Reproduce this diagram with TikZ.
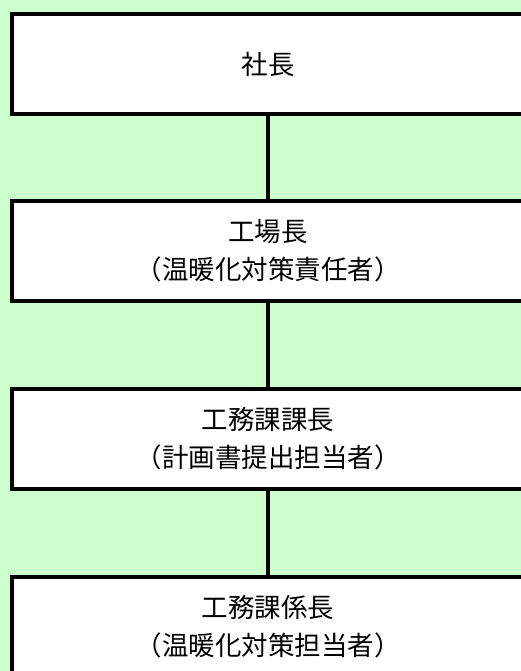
\documentclass[tikz,border=0pt]{standalone}
\usepackage{fontspec}
\newfontfamily\jpfont{Noto Sans CJK JP}
\usetikzlibrary{positioning}
\definecolor{bggreen}{HTML}{CCFFCC}
\tikzset{
  post/.style={rectangle, draw=black, fill=white, line width=3.5pt,
    minimum width=512pt, minimum height=100pt, align=center,
    font=\jpfont\fontsize{26.5}{38}\selectfont},
  link/.style={line width=3.5pt}
}
\begin{document}
\begin{tikzpicture}[x=1pt,y=-1pt]
    % Background
    \useasboundingbox (0,0) rectangle (521,671);
    \clip (0,0) rectangle (521,671);
    \fill[bggreen] (0,0) rectangle (521,671);

    % Posts
    \node[post] (president) at (268,64) {社長};
    \node[post] (plant) at (268,251) {工場長\\（温暖化対策責任者）};
    \node[post] (chief) at (268,439) {工務課課長\\（計画書提出担当者）};
    \node[post] (staff) at (268,627) {工務課係長\\（温暖化対策担当者）};

    % Links
    \draw[link] (president.south) -- (plant.north);
    \draw[link] (plant.south) -- (chief.north);
    \draw[link] (chief.south) -- (staff.north);
\end{tikzpicture}
\end{document}
